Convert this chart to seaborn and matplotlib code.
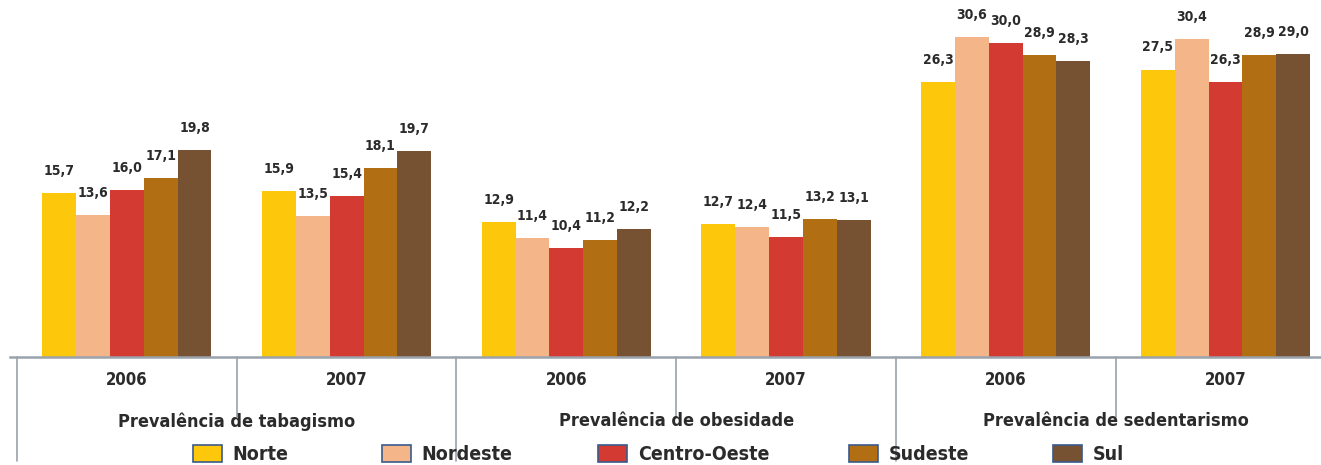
import matplotlib
matplotlib.use("Agg")
import matplotlib.pyplot as plt
import matplotlib.transforms as mtransforms
from matplotlib import font_manager
import pandas as pd
import seaborn as sns

# ---- data ----
regions = ["Norte", "Nordeste", "Centro-Oeste", "Sudeste", "Sul"]
indicators = ["Prevalência de tabagismo", "Prevalência de obesidade", "Prevalência de sedentarismo"]
years = ["2006", "2007"]

tabagismo_2006 = [15.7, 13.6, 16.0, 17.1, 19.8]
tabagismo_2007 = [15.9, 13.5, 15.4, 18.1, 19.7]
obesidade_2006 = [12.9, 11.4, 10.4, 11.2, 12.2]
obesidade_2007 = [12.7, 12.4, 11.5, 13.2, 13.1]
sedentarismo_2006 = [26.3, 30.6, 30.0, 28.9, 28.3]
sedentarismo_2007 = [27.5, 30.4, 26.3, 28.9, 29.0]

colors = ["#FDC70C", "#F4B688", "#D33A31", "#B16E13", "#765233"]

series = {
    (indicators[0], years[0]): tabagismo_2006,
    (indicators[0], years[1]): tabagismo_2007,
    (indicators[1], years[0]): obesidade_2006,
    (indicators[1], years[1]): obesidade_2007,
    (indicators[2], years[0]): sedentarismo_2006,
    (indicators[2], years[1]): sedentarismo_2007,
}

rows = []
for (ind, yr), vals in series.items():
    for reg, v in zip(regions, vals):
        rows.append({"cell": f"{ind} {yr}", "indicador": ind, "ano": yr,
                     "regiao": reg, "valor": v})
df = pd.DataFrame(rows)
cells = list(dict.fromkeys(df["cell"]))

# ---- style ----
sns.set_theme(style="white")
names = {f.name for f in font_manager.fontManager.ttflist}
condensed = [n for n in ["Liberation Sans Narrow", "DejaVu Sans Condensed"] if n in names]
plt.rcParams["font.family"] = condensed + ["DejaVu Sans"]
plt.rcParams["font.stretch"] = "condensed"
plt.rcParams["font.weight"] = "bold"

TEXT = "#2b2b2b"
GRID = "#9aa2ac"

fig = plt.figure(figsize=(13.21, 4.65), dpi=100)
ax = fig.add_axes([10 / 1321, 108 / 465, 1311 / 1321, 357 / 465])

sns.barplot(data=df, x="cell", y="valor", hue="regiao", order=cells,
            hue_order=regions, palette=colors, width=0.77, saturation=1,
            edgecolor="none", linewidth=0, legend=False, ax=ax)

ax.set_xlim(-0.532, 5.435)
ax.set_ylim(0, 34.16)

for cont in ax.containers:
    labels = [f"{v:.1f}".replace(".", ",") for v in cont.datavalues]
    ax.bar_label(cont, labels=labels, padding=11, fontsize=10,
                 fontweight="bold", color=TEXT)

for s in ["top", "right", "left"]:
    ax.spines[s].set_visible(False)
ax.spines["bottom"].set_color(GRID)
ax.spines["bottom"].set_linewidth(1.8)
ax.set_yticks([])
ax.set_ylabel("")
ax.set_xlabel("")

ax.set_xticks(range(len(cells)))
ax.set_xticklabels([c.split()[-1] for c in cells], fontsize=12,
                   fontweight="bold", color=TEXT)
ax.tick_params(axis="x", length=0, pad=10)

trans = mtransforms.blended_transform_factory(ax.transData, ax.transAxes)
# separators between indicator groups (long) and years (short)
for xpos in [-0.5, 1.5, 3.5, 5.5]:
    ax.plot([xpos, xpos], [0, -0.29], transform=trans, color=GRID,
            lw=1.2, clip_on=False)
for xpos in [0.5, 2.5, 4.5]:
    ax.plot([xpos, xpos], [0, -0.168], transform=trans, color=GRID,
            lw=1.2, clip_on=False)

for i, ind in enumerate(indicators):
    ax.text(2 * i + 0.5, -0.18, ind, transform=trans, ha="center",
            va="center", fontsize=13, fontweight="bold", color=TEXT)

# legend entries, each anchored at its own position along the bottom
legend_x = [193, 382, 598, 849, 1053]
for reg, col, xl in zip(regions, colors, legend_x):
    h = plt.Rectangle((0, 0), 1, 1, facecolor=col, edgecolor="#3a5a8c",
                      linewidth=1.2)
    leg = fig.legend([h], [reg], loc="center left",
                     bbox_to_anchor=(xl / 1321, 0.022), frameon=False,
                     borderpad=0, borderaxespad=0, handlelength=1.5,
                     handleheight=1.0, handletextpad=0.55,
                     prop={"weight": "bold", "size": 14, "stretch": "condensed"})
    for t in leg.get_texts():
        t.set_color(TEXT)

fig.savefig("out.png", dpi=100)
